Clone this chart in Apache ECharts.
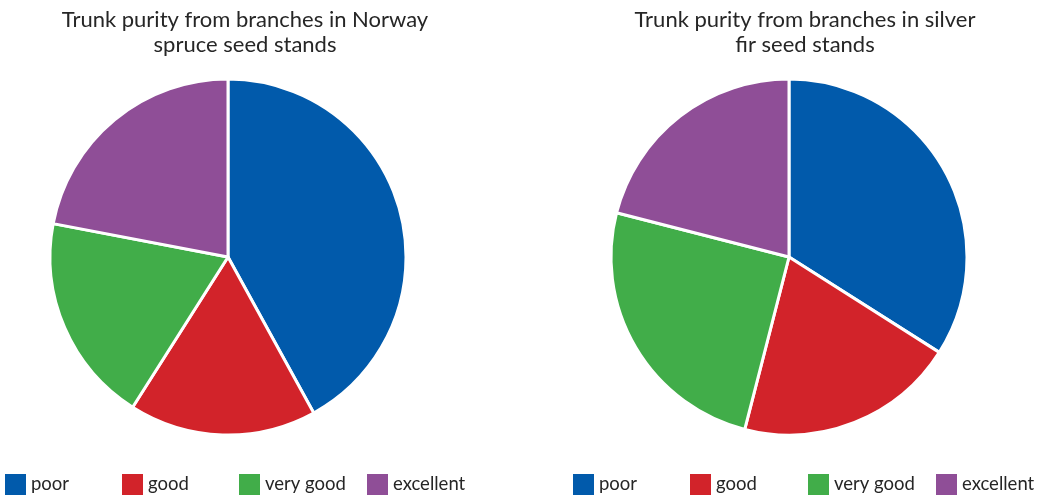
<!DOCTYPE html>
<html><head><meta charset="utf-8">
<script src="https://cdn.jsdelivr.net/npm/echarts@6/dist/echarts.min.js"></script>
<style>html,body{margin:0;padding:0;background:#fff}#c{width:1045px;height:498px}</style>
</head><body><div id="c"></div>
<script>
const categories = ['poor', 'good', 'very good', 'excellent'];
const colors = ['#015aab', '#d2232a', '#41ad49', '#8f4e97'];
const spruceValues = [42, 17, 19, 22];
const firValues = [34, 20, 25, 21];
const titles = ['Trunk purity from branches in Norway\nspruce seed stands', 'Trunk purity from branches in silver\nfir seed stands'];

const chart = echarts.init(document.getElementById('c'));
const font = 'Lato, "Noto Sans", sans-serif';
const legendLefts = [[5, 122, 239, 367], [573, 690, 808, 936]];
const legends = [];
legendLefts.forEach(arr => arr.forEach((x, i) => {
  legends.push({
    data: [categories[i]], left: x, top: 474, padding: 0, icon: 'rect', itemWidth: 21, itemHeight: 21,
    itemGap: 5, selectedMode: false, itemStyle: { borderWidth: 0 },
    textStyle: { fontFamily: font, fontSize: 18.5, color: '#262626' }
  });
}));
function mk(vals) { return vals.map((v, i) => ({ name: categories[i], value: v, itemStyle: { color: colors[i] } })); }
const titleStyle = { fontFamily: font, fontSize: 22, fontWeight: 'normal', color: '#262626', lineHeight: 25 };
chart.setOption({
  animation: false,
  title: [
    { text: titles[0], left: 245, top: 7, padding: 0, textAlign: 'center', textStyle: titleStyle },
    { text: titles[1], left: 805, top: 7, padding: 0, textAlign: 'center', textStyle: titleStyle }
  ],
  legend: legends,
  series: [
    { type: 'pie', center: [228, 257], radius: [0, 178], startAngle: 90, clockwise: true, label: { show: false }, labelLine: { show: false },
      itemStyle: { borderColor: '#fff', borderWidth: 3 }, emphasis: { disabled: true }, data: mk(spruceValues) },
    { type: 'pie', center: [789, 257], radius: [0, 178], startAngle: 90, clockwise: true, label: { show: false }, labelLine: { show: false },
      itemStyle: { borderColor: '#fff', borderWidth: 3 }, emphasis: { disabled: true }, data: mk(firValues) }
  ]
});
</script></body></html>
